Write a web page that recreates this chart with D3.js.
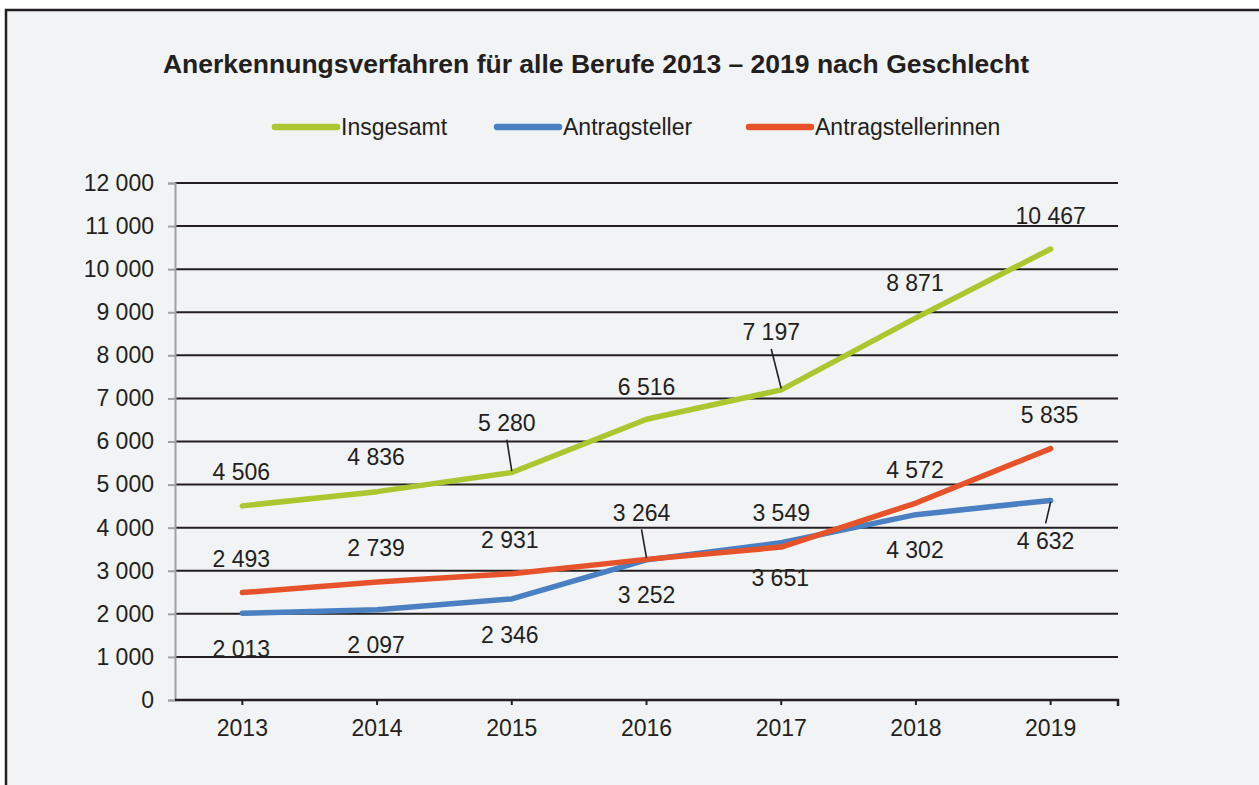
<!DOCTYPE html>
<html>
<head>
<meta charset="utf-8">
<script src="https://cdn.jsdelivr.net/npm/d3@7"></script>
<style>
  html, body { margin: 0; padding: 0; background: #fff; }
  svg { display: block; font-family: "Liberation Sans", Arial, sans-serif; }
</style>
</head>
<body>
<svg id="chart" width="1259" height="785"></svg>
<script>
// Chart data
const years = ['2013', '2014', '2015', '2016', '2017', '2018', '2019'];
const insgesamt = [4506, 4836, 5280, 6516, 7197, 8871, 10467];
const antragsteller = [2013, 2097, 2346, 3252, 3651, 4302, 4632];
const antragstellerinnen = [2493, 2739, 2931, 3264, 3549, 4572, 5835];
const yTicks = [0, 1000, 2000, 3000, 4000, 5000, 6000, 7000, 8000, 9000, 10000, 11000, 12000];

// Label placement (dx, dy from the point) and leader-line flags
const insgesamtLabelPos = [[-1, -34], [-1, -35], [-5, -50], [0, -33], [-10, -58], [-1, -35], [0, -33]];
const insgesamtLeader = [false, false, true, false, true, false, false];
const stellerLabelPos = [[-1, 35], [-1, 35], [-2, 36], [0, 35], [-1, 35], [-1, 35], [-5, 40]];
const stellerLeader = [false, false, false, false, false, false, true];
const stellerinnenLabelPos = [[-1, -34], [-1, -34], [-2, -34], [-5, -47], [0, -34], [-1, -33], [-1, -34]];
const stellerinnenLeader = [false, false, false, true, false, false, false];

const series = [
  { name: 'Insgesamt', values: insgesamt, color: '#abc72f', pos: insgesamtLabelPos, leader: insgesamtLeader },
  { name: 'Antragsteller', values: antragsteller, color: '#4a80c2', pos: stellerLabelPos, leader: stellerLeader },
  { name: 'Antragstellerinnen', values: antragstellerinnen, color: '#e6532a', pos: stellerinnenLabelPos, leader: stellerinnenLeader }
];

const textColor = '#231f20';
const fmt = v => d3.format(',')(v).replace(/,/g, ' ');

const svg = d3.select('#chart');

// Frame
svg.append('rect')
  .attr('x', 6).attr('y', 10)
  .attr('width', 1300).attr('height', 800)
  .style('fill', '#f2f3f5')
  .style('stroke', '#231f20')
  .style('stroke-width', 2.5);

// Title
svg.append('text')
  .attr('x', 596).attr('y', 73)
  .attr('text-anchor', 'middle')
  .style('font-size', '26.5px')
  .style('font-weight', 'bold')
  .style('fill', textColor)
  .text('Anerkennungsverfahren für alle Berufe 2013 – 2019 nach Geschlecht');

// Legend
const legendX = [275, 497, 749];
series.forEach((s, i) => {
  const g = svg.append('g').attr('transform', `translate(${legendX[i]}, 127)`);
  g.append('line')
    .attr('x1', 0).attr('x2', 62)
    .style('stroke', s.color)
    .style('stroke-width', 6.5)
    .style('stroke-linecap', 'round');
  g.append('text')
    .attr('x', 66).attr('y', 8)
    .style('font-size', '23px')
    .style('fill', textColor)
    .text(s.name);
});

// Scales
const plot = { left: 175, right: 1118, top: 183, bottom: 700 };
const x = d3.scaleBand().domain(years).range([plot.left, plot.right]);
const y = d3.scaleLinear().domain([0, 12000]).range([plot.bottom, plot.top]);
const cx = d => x(d) + x.bandwidth() / 2;

// Gridlines
svg.append('g')
  .selectAll('line')
  .data(yTicks.filter(t => t > 0))
  .join('line')
  .attr('x1', plot.left).attr('x2', plot.right)
  .attr('y1', d => y(d)).attr('y2', d => y(d))
  .style('stroke', '#231f20')
  .style('stroke-width', 2);

// Y axis
const yAxis = svg.append('g')
  .attr('transform', `translate(${plot.left},0)`)
  .call(d3.axisLeft(y).tickValues(yTicks).tickFormat(fmt).tickSize(7).tickPadding(14));
yAxis.select('.domain').style('stroke', '#a0a0a0').style('stroke-width', 2);
yAxis.selectAll('.tick line').style('stroke', '#a0a0a0').style('stroke-width', 2);
yAxis.selectAll('.tick text')
  .style('font-size', '23px')
  .style('fill', textColor)
  .style('font-family', '"Liberation Sans", Arial, sans-serif');

// X axis
const xAxis = svg.append('g')
  .attr('transform', `translate(0,${plot.bottom})`)
  .call(d3.axisBottom(x).tickSize(5).tickPadding(15).tickSizeOuter(0));
xAxis.select('.domain').style('stroke', '#231f20').style('stroke-width', 2.5)
  .attr('d', `M${plot.left},0H${plot.right}V6`);
xAxis.selectAll('.tick line').style('stroke', '#231f20').style('stroke-width', 2);
xAxis.selectAll('.tick text')
  .style('font-size', '23px')
  .style('fill', textColor)
  .style('font-family', '"Liberation Sans", Arial, sans-serif');

// Lines
const line = d3.line()
  .x((d, i) => cx(years[i]))
  .y(d => y(d));

series.forEach(s => {
  svg.append('path')
    .datum(s.values)
    .attr('d', line)
    .style('fill', 'none')
    .style('stroke', s.color)
    .style('stroke-width', 5.5)
    .style('stroke-linecap', 'round')
    .style('stroke-linejoin', 'round');
});

// Data labels with leader lines
series.forEach(s => {
  const g = svg.append('g');
  s.values.forEach((v, i) => {
    const px = cx(years[i]);
    const py = y(v);
    const [dx, dy] = s.pos[i];
    const lx = px + dx;
    const ly = py + dy;
    if (s.leader[i]) {
      const dir = dy < 0 ? 1 : -1;
      g.append('line')
        .attr('x1', lx).attr('y1', ly + dir * 17)
        .attr('x2', px).attr('y2', py - dir * 1.5)
        .style('stroke', '#231f20')
        .style('stroke-width', 1.6);
    }
    g.append('text')
      .attr('x', lx).attr('y', ly)
      .attr('dy', '0.36em')
      .attr('text-anchor', 'middle')
      .style('font-size', '23px')
      .style('fill', textColor)
      .text(fmt(v));
  });
});
</script>
</body>
</html>
